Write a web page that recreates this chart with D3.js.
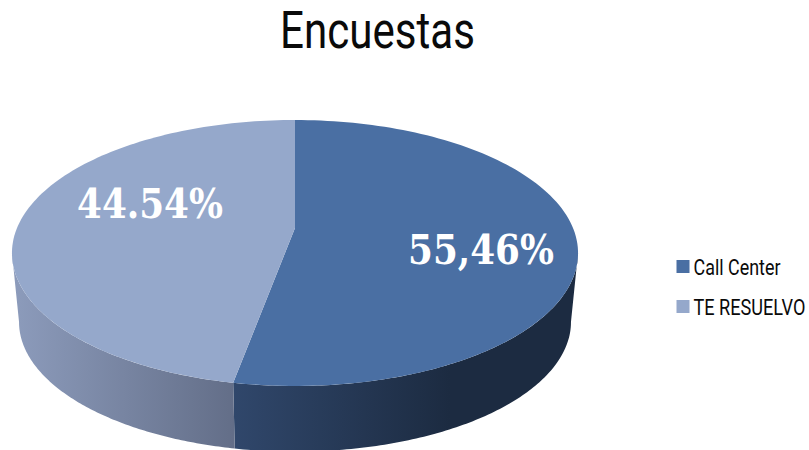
<!DOCTYPE html>
<html>
<head>
<meta charset="utf-8">
<script src="https://cdn.jsdelivr.net/npm/d3@7"></script>
<style>
  html, body { margin: 0; background: #fff; }
  svg { display: block; }
  text { font-family: Roboto, sans-serif; }
  .pct { font-family: "DejaVu Serif", serif; font-weight: 700; fill: #fff; }
</style>
</head>
<body>
<div id="chart"></div>
<script>
  // slice shares as drawn (the printed labels do not quite match the geometry)
  const categories = ['Call Center', 'TE RESUELVO'];
  const sliceShares = [52.9, 47.1];
  const pctLabels = ['55,46%', '44.54%'];
  const topColors = ['#4a6fa3', '#95a8cb'];

  const width = 809;
  const height = 450;

  const svg = d3.select('#chart').append('svg')
    .attr('width', width)
    .attr('height', height);

  // Perspective disc: unit circle projected to the screen
  const disc = { cx: 295, apexY: 228, midY: 253, R: 278, S: 128.3, k: 0.188, depth: 69, shrink: 0.975 };

  function project(angle, level) {
    const u = Math.sin(angle);
    const v = -Math.cos(angle);
    const w = 1 - disc.k * v;
    const x = disc.cx + disc.R * u / w;
    const y = disc.apexY + disc.S * v / w;
    if (!level) return [x, y];
    return [
      disc.cx + (x - disc.cx) * disc.shrink,
      disc.midY + disc.depth + (y - disc.midY) * disc.shrink
    ];
  }

  const arcs = d3.pie().sort(null).value(d => d)(sliceShares);
  const line = d3.line();
  const steps = (a, b) => d3.range(0, 121).map(i => a + (b - a) * i / 120);

  // Side wall gradients
  const defs = svg.append('defs');
  const wallGradients = [
    { id: 'wall0', x1: 234, x2: 450, stops: ['#30476b', '#1c2b41'] },
    { id: 'wall1', x1: 15, x2: 234, stops: ['#8c9bbb', '#636e88'] }
  ];
  wallGradients.forEach(g => {
    const lg = defs.append('linearGradient')
      .attr('id', g.id)
      .attr('gradientUnits', 'userSpaceOnUse')
      .attr('x1', g.x1).attr('x2', g.x2)
      .attr('y1', 0).attr('y2', 0);
    lg.append('stop').attr('offset', 0).attr('stop-color', g.stops[0]);
    lg.append('stop').attr('offset', 1).attr('stop-color', g.stops[1]);
  });

  // Visible part of the wall runs between the two silhouette angles
  const wallFrom = Math.acos(-disc.k);
  const wallTo = 2 * Math.PI - wallFrom;

  arcs.forEach((a, i) => {
    const from = Math.max(a.startAngle, wallFrom);
    const to = Math.min(a.endAngle, wallTo);
    const angles = steps(from, to);
    const pts = angles.map(t => project(t, 0))
      .concat(angles.slice().reverse().map(t => project(t, 1)));
    svg.append('path')
      .attr('d', line(pts) + 'Z')
      .attr('fill', `url(#wall${i})`);
  });

  // Top face
  arcs.forEach((a, i) => {
    const pts = [[disc.cx, disc.apexY]].concat(steps(a.startAngle, a.endAngle).map(t => project(t, 0)));
    svg.append('path')
      .attr('d', line(pts) + 'Z')
      .attr('fill', topColors[i]);
  });

  // squeeze a text horizontally to a target width, the font has no condensed cut here
  function squeeze(sel, x, y, targetWidth) {
    const natural = sel.node().getComputedTextLength();
    sel.attr('transform', `translate(${x},${y}) scale(${targetWidth / natural},1)`);
  }

  // Percent labels
  const pctPos = [[408, 264], [77, 218]];
  pctLabels.forEach((t, i) => {
    const label = svg.append('text')
      .attr('class', 'pct')
      .attr('font-size', 41)
      .text(t);
    squeeze(label, pctPos[i][0], pctPos[i][1], 146);
  });

  // Title
  const title = svg.append('text')
    .attr('font-size', 51)
    .attr('fill', '#0a0a0a')
    .text('Encuestas');
  squeeze(title, 280, 48, 195);

  // Legend
  const legendY = d3.scalePoint().domain(categories).range([266.5, 306.5]);
  const legendWidths = [87, 112];
  categories.forEach((c, i) => {
    svg.append('rect')
      .attr('x', 676.5)
      .attr('y', legendY(c) - 6.5)
      .attr('width', 13)
      .attr('height', 13)
      .attr('fill', topColors[i]);
    const entry = svg.append('text')
      .attr('font-size', 22)
      .attr('fill', '#0a0a0a')
      .text(c);
    squeeze(entry, 693.5, legendY(c) + 8, legendWidths[i]);
  });
</script>
</body>
</html>
